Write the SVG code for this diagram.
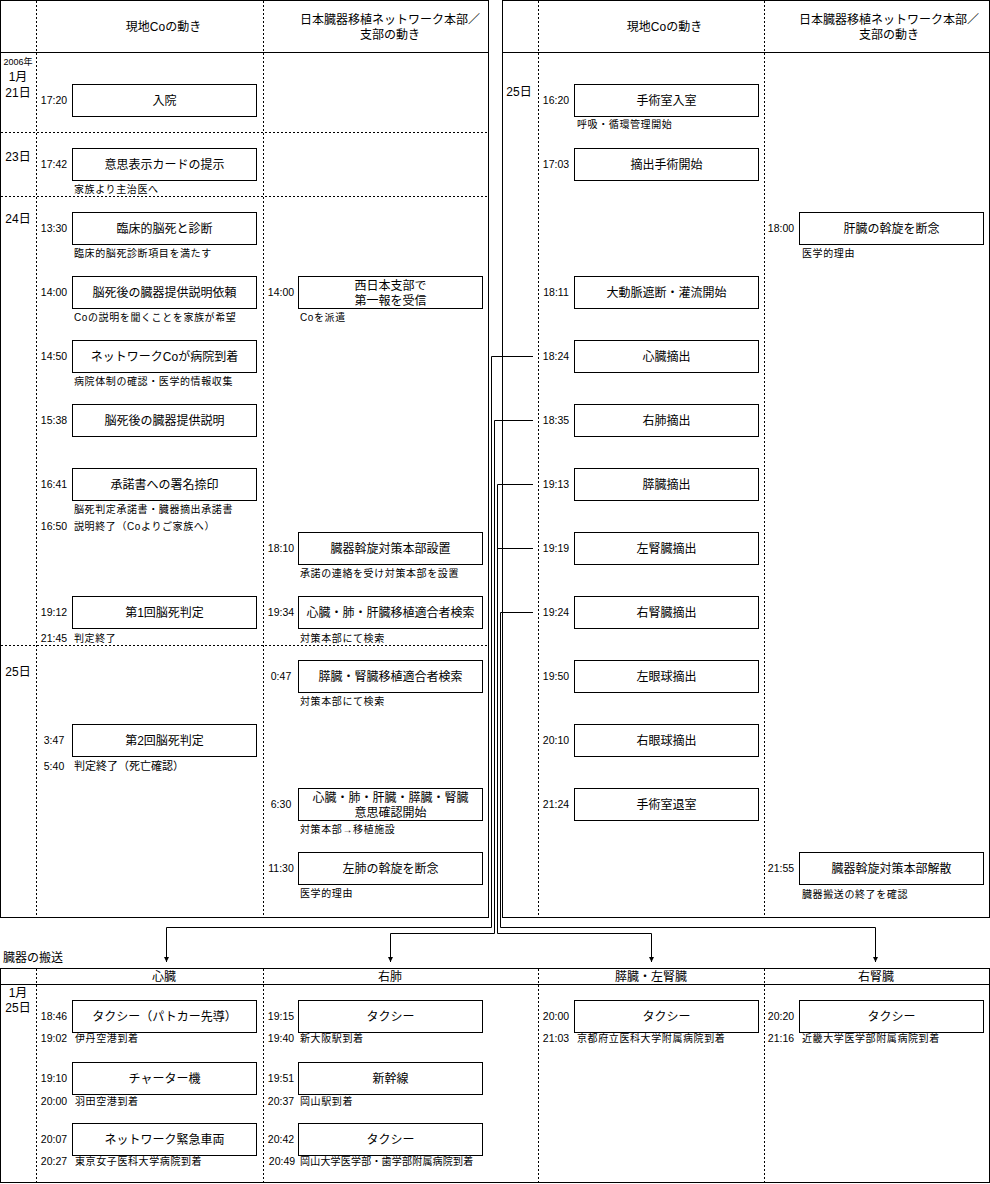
<svg xmlns="http://www.w3.org/2000/svg" width="990" height="1184" viewBox="0 0 990 1184">
<style>
text{font-family:"Liberation Sans","Noto Sans CJK JP",sans-serif;fill:#000}
.box{fill:#fff;stroke:#000;stroke-width:1}
.bt{font-size:12px;text-anchor:middle}
.hd{font-size:12px;text-anchor:middle}
.tm{font-size:10.5px;text-anchor:middle}
.sub{font-size:10px;letter-spacing:0.6px}
.dt{font-size:12px;text-anchor:middle}
.frame{fill:none;stroke:#000;stroke-width:1}
.dot{stroke:#000;stroke-width:1;stroke-dasharray:2,2;fill:none}
.conn{fill:none;stroke:#000;stroke-width:1}
</style>
<defs>
<marker id="ah" viewBox="0 0 6 6" refX="6" refY="3" markerWidth="5" markerHeight="5" orient="auto" markerUnits="userSpaceOnUse">
<path d="M0,0 L6,3 L0,6 z" fill="#000"/>
</marker>
</defs>
<rect width="990" height="1184" fill="#fff"/>

<!-- Left panel frame -->
<g id="left-panel">
<rect class="frame" x="0.5" y="0.5" width="488" height="917"/>
<line class="frame" x1="0" y1="52.5" x2="488" y2="52.5"/>
<line class="dot" x1="36.5" y1="1" x2="36.5" y2="917"/>
<line class="dot" x1="263.5" y1="1" x2="263.5" y2="917"/>
<line class="dot" x1="1" y1="132.5" x2="488" y2="132.5"/>
<line class="dot" x1="1" y1="196.5" x2="488" y2="196.5"/>
<line class="dot" x1="1" y1="645.5" x2="488" y2="645.5"/>
<text class="hd" x="163.5" y="31">現地Coの動き</text>
<text class="hd" x="390" y="24">日本臓器移植ネットワーク本部／</text>
<text class="hd" x="390" y="39">支部の動き</text>
<text x="18" y="65" style="font-size:9px;text-anchor:middle">2006年</text>
<text class="dt" x="18" y="81">1月</text>
<text class="dt" x="18" y="97">21日</text>
<text class="dt" x="18" y="161">23日</text>
<text class="dt" x="18" y="223">24日</text>
<text class="dt" x="18" y="676">25日</text>
</g>

<!-- Right panel frame -->
<g id="right-panel">
<rect class="frame" x="502.5" y="0.5" width="487" height="917"/>
<line class="frame" x1="502" y1="52.5" x2="990" y2="52.5"/>
<line class="dot" x1="538.5" y1="1" x2="538.5" y2="917"/>
<line class="dot" x1="764.5" y1="1" x2="764.5" y2="917"/>
<text class="hd" x="664.5" y="31">現地Coの動き</text>
<text class="hd" x="889" y="24">日本臓器移植ネットワーク本部／</text>
<text class="hd" x="889" y="39">支部の動き</text>
<text class="dt" x="519" y="96">25日</text>
</g>

<!-- Left panel, column 1 -->
<g id="n-admit"><text class="tm" x="54" y="104">17:20</text><rect class="box" x="72.5" y="84.5" width="184" height="32"/><text class="bt" x="164.5" y="104.5">入院</text></g>
<g id="n-card"><text class="tm" x="54" y="168">17:42</text><rect class="box" x="72.5" y="148.5" width="184" height="32"/><text class="bt" x="164.5" y="168.5">意思表示カードの提示</text><text class="sub" x="74" y="193">家族より主治医へ</text></g>
<g id="n-clinical"><text class="tm" x="54" y="232">13:30</text><rect class="box" x="72.5" y="212.5" width="184" height="32"/><text class="bt" x="164.5" y="232.5">臨床的脳死と診断</text><text class="sub" x="74" y="257">臨床的脳死診断項目を満たす</text></g>
<g id="n-request"><text class="tm" x="54" y="296">14:00</text><rect class="box" x="72.5" y="276.5" width="184" height="32"/><text class="bt" x="164.5" y="296.5">脳死後の臓器提供説明依頼</text><text class="sub" x="74" y="321">Coの説明を聞くことを家族が希望</text></g>
<g id="n-arrive"><text class="tm" x="54" y="360">14:50</text><rect class="box" x="72.5" y="340.5" width="184" height="32"/><text class="bt" x="164.5" y="360.5">ネットワークCoが病院到着</text><text class="sub" x="74" y="385">病院体制の確認・医学的情報収集</text></g>
<g id="n-explain"><text class="tm" x="54" y="424">15:38</text><rect class="box" x="72.5" y="404.5" width="184" height="32"/><text class="bt" x="164.5" y="424.5">脳死後の臓器提供説明</text></g>
<g id="n-consent"><text class="tm" x="54" y="488">16:41</text><rect class="box" x="72.5" y="468.5" width="184" height="32"/><text class="bt" x="164.5" y="488.5">承諾書への署名捺印</text><text class="sub" x="74" y="513">脳死判定承諾書・臓器摘出承諾書</text><text class="tm" x="54" y="530">16:50</text><text class="sub" x="74" y="530">説明終了（Coよりご家族へ）</text></g>
<g id="n-judge1"><text class="tm" x="54" y="616">19:12</text><rect class="box" x="72.5" y="596.5" width="184" height="32"/><text class="bt" x="164.5" y="616.5">第1回脳死判定</text><text class="tm" x="54" y="642">21:45</text><text class="sub" x="74" y="642">判定終了</text></g>
<g id="n-judge2"><text class="tm" x="54" y="744">3:47</text><rect class="box" x="72.5" y="724.5" width="184" height="32"/><text class="bt" x="164.5" y="744.5">第2回脳死判定</text><text class="tm" x="54" y="770">5:40</text><text class="sub" x="74" y="770" style="font-size:11px;letter-spacing:0">判定終了（死亡確認）</text></g>

<!-- Left panel, column 2 -->
<g id="n-west"><text class="tm" x="281" y="296">14:00</text><rect class="box" x="298.5" y="276.5" width="184" height="32"/><text class="bt" x="390.5" y="289.5">西日本支部で</text><text class="bt" x="390.5" y="305">第一報を受信</text><text class="sub" x="300" y="321">Coを派遣</text></g>
<g id="n-hq"><text class="tm" x="281" y="552">18:10</text><rect class="box" x="298.5" y="532.5" width="184" height="32"/><text class="bt" x="390.5" y="552.5">臓器斡旋対策本部設置</text><text class="sub" x="300" y="577">承諾の連絡を受け対策本部を設置</text></g>
<g id="n-search1"><text class="tm" x="281" y="616">19:34</text><rect class="box" x="298.5" y="596.5" width="184" height="32"/><text class="bt" x="390.5" y="616.5">心臓・肺・肝臓移植適合者検索</text><text class="sub" x="300" y="642">対策本部にて検索</text></g>
<g id="n-search2"><text class="tm" x="281" y="680">0:47</text><rect class="box" x="298.5" y="660.5" width="184" height="32"/><text class="bt" x="390.5" y="680.5">膵臓・腎臓移植適合者検索</text><text class="sub" x="300" y="705">対策本部にて検索</text></g>
<g id="n-confirm"><text class="tm" x="281" y="808">6:30</text><rect class="box" x="298.5" y="788.5" width="184" height="32"/><text class="bt" x="390.5" y="801.5">心臓・肺・肝臓・膵臓・腎臓</text><text class="bt" x="390.5" y="817">意思確認開始</text><text class="sub" x="300" y="833">対策本部→移植施設</text></g>
<g id="n-leftlung"><text class="tm" x="281" y="872">11:30</text><rect class="box" x="298.5" y="852.5" width="184" height="32"/><text class="bt" x="390.5" y="872.5">左肺の斡旋を断念</text><text class="sub" x="300" y="897">医学的理由</text></g>

<!-- Right panel, column 1 -->
<g id="n-or-in"><text class="tm" x="556" y="104">16:20</text><rect class="box" x="574.5" y="84.5" width="184" height="32"/><text class="bt" x="666.5" y="104.5">手術室入室</text><text class="sub" x="577" y="128">呼吸・循環管理開始</text></g>
<g id="n-surg"><text class="tm" x="556" y="168">17:03</text><rect class="box" x="574.5" y="148.5" width="184" height="32"/><text class="bt" x="666.5" y="168.5">摘出手術開始</text></g>
<g id="n-aorta"><text class="tm" x="556" y="296">18:11</text><rect class="box" x="574.5" y="276.5" width="184" height="32"/><text class="bt" x="666.5" y="296.5">大動脈遮断・灌流開始</text></g>
<g id="n-heart"><text class="tm" x="556" y="360">18:24</text><rect class="box" x="574.5" y="340.5" width="184" height="32"/><text class="bt" x="666.5" y="360.5">心臓摘出</text></g>
<g id="n-rlung"><text class="tm" x="556" y="424">18:35</text><rect class="box" x="574.5" y="404.5" width="184" height="32"/><text class="bt" x="666.5" y="424.5">右肺摘出</text></g>
<g id="n-panc"><text class="tm" x="556" y="488">19:13</text><rect class="box" x="574.5" y="468.5" width="184" height="32"/><text class="bt" x="666.5" y="488.5">膵臓摘出</text></g>
<g id="n-lkid"><text class="tm" x="556" y="552">19:19</text><rect class="box" x="574.5" y="532.5" width="184" height="32"/><text class="bt" x="666.5" y="552.5">左腎臓摘出</text></g>
<g id="n-rkid"><text class="tm" x="556" y="616">19:24</text><rect class="box" x="574.5" y="596.5" width="184" height="32"/><text class="bt" x="666.5" y="616.5">右腎臓摘出</text></g>
<g id="n-leye"><text class="tm" x="556" y="680">19:50</text><rect class="box" x="574.5" y="660.5" width="184" height="32"/><text class="bt" x="666.5" y="680.5">左眼球摘出</text></g>
<g id="n-reye"><text class="tm" x="556" y="744">20:10</text><rect class="box" x="574.5" y="724.5" width="184" height="32"/><text class="bt" x="666.5" y="744.5">右眼球摘出</text></g>
<g id="n-or-out"><text class="tm" x="556" y="808">21:24</text><rect class="box" x="574.5" y="788.5" width="184" height="32"/><text class="bt" x="666.5" y="808.5">手術室退室</text></g>

<!-- Right panel, column 2 -->
<g id="n-liver"><text class="tm" x="781" y="232">18:00</text><rect class="box" x="799.5" y="212.5" width="184" height="32"/><text class="bt" x="891.5" y="232.5">肝臓の斡旋を断念</text><text class="sub" x="802" y="257">医学的理由</text></g>
<g id="n-dissolve"><text class="tm" x="781" y="872">21:55</text><rect class="box" x="799.5" y="852.5" width="184" height="32"/><text class="bt" x="891.5" y="872.5">臓器斡旋対策本部解散</text><text class="sub" x="802" y="898">臓器搬送の終了を確認</text></g>

<!-- Transport table -->
<g id="transport-table">
<text x="3" y="962" style="font-size:12px">臓器の搬送</text>
<rect class="frame" x="0.5" y="968.5" width="989" height="214"/>
<line class="frame" x1="0" y1="984.5" x2="990" y2="984.5"/>
<line class="dot" x1="36.5" y1="969" x2="36.5" y2="1182"/>
<line class="dot" x1="263.5" y1="969" x2="263.5" y2="1182"/>
<line class="dot" x1="538.5" y1="969" x2="538.5" y2="1182"/>
<line class="dot" x1="764.5" y1="969" x2="764.5" y2="1182"/>
<text class="hd" x="164" y="981">心臓</text>
<text class="hd" x="390" y="981">右肺</text>
<text class="hd" x="651" y="981">膵臓・左腎臓</text>
<text class="hd" x="876" y="981">右腎臓</text>
<text class="dt" x="18" y="997">1月</text>
<text class="dt" x="18" y="1012">25日</text>
</g>

<g id="t-heart-1"><text class="tm" x="54" y="1020">18:46</text><rect class="box" x="72.5" y="1000.5" width="184" height="32"/><text class="bt" x="164.5" y="1020.5">タクシー（パトカー先導）</text><text class="tm" x="54" y="1042">19:02</text><text class="sub" x="75" y="1042">伊丹空港到着</text></g>
<g id="t-heart-2"><text class="tm" x="54" y="1082">19:10</text><rect class="box" x="72.5" y="1062.5" width="184" height="32"/><text class="bt" x="164.5" y="1082.5">チャーター機</text><text class="tm" x="54" y="1105">20:00</text><text class="sub" x="75" y="1105">羽田空港到着</text></g>
<g id="t-heart-3"><text class="tm" x="54" y="1143">20:07</text><rect class="box" x="72.5" y="1123.5" width="184" height="32"/><text class="bt" x="164.5" y="1143.5">ネットワーク緊急車両</text><text class="tm" x="54" y="1165">20:27</text><text class="sub" x="75" y="1165">東京女子医科大学病院到着</text></g>

<g id="t-lung-1"><text class="tm" x="281" y="1020">19:15</text><rect class="box" x="298.5" y="1000.5" width="184" height="32"/><text class="bt" x="390.5" y="1020.5">タクシー</text><text class="tm" x="281" y="1042">19:40</text><text class="sub" x="300" y="1042">新大阪駅到着</text></g>
<g id="t-lung-2"><text class="tm" x="281" y="1082">19:51</text><rect class="box" x="298.5" y="1062.5" width="184" height="32"/><text class="bt" x="390.5" y="1082.5">新幹線</text><text class="tm" x="281" y="1105">20:37</text><text class="sub" x="300" y="1105">岡山駅到着</text></g>
<g id="t-lung-3"><text class="tm" x="281" y="1143">20:42</text><rect class="box" x="298.5" y="1123.5" width="184" height="32"/><text class="bt" x="390.5" y="1143.5">タクシー</text><text class="tm" x="282" y="1165">20:49</text><text class="sub" x="300" y="1165" style="letter-spacing:0.2px">岡山大学医学部・歯学部附属病院到着</text></g>

<g id="t-panc-1"><text class="tm" x="556" y="1020">20:00</text><rect class="box" x="574.5" y="1000.5" width="184" height="32"/><text class="bt" x="666.5" y="1020.5">タクシー</text><text class="tm" x="556" y="1042">21:03</text><text class="sub" x="577" y="1042">京都府立医科大学附属病院到着</text></g>
<g id="t-rkid-1"><text class="tm" x="781" y="1020">20:20</text><rect class="box" x="799.5" y="1000.5" width="184" height="32"/><text class="bt" x="891.5" y="1020.5">タクシー</text><text class="tm" x="781" y="1042">21:16</text><text class="sub" x="802" y="1042">近畿大学医学部附属病院到着</text></g>

<!-- Connectors -->
<g id="connectors">
<path class="conn" d="M533,356.5 H491.5 V927.5 H166.5 V962" marker-end="url(#ah)"/>
<path class="conn" d="M533,420.5 H494.5 V933.5 H390.5 V962" marker-end="url(#ah)"/>
<path class="conn" d="M533,484.5 H497.5 V933.5 H651.5 V962" marker-end="url(#ah)"/>
<path class="conn" d="M533,548.5 H497.5"/>
<path class="conn" d="M533,612.5 H500.5 V927.5 H875.5 V962" marker-end="url(#ah)"/>
</g>
</svg>
